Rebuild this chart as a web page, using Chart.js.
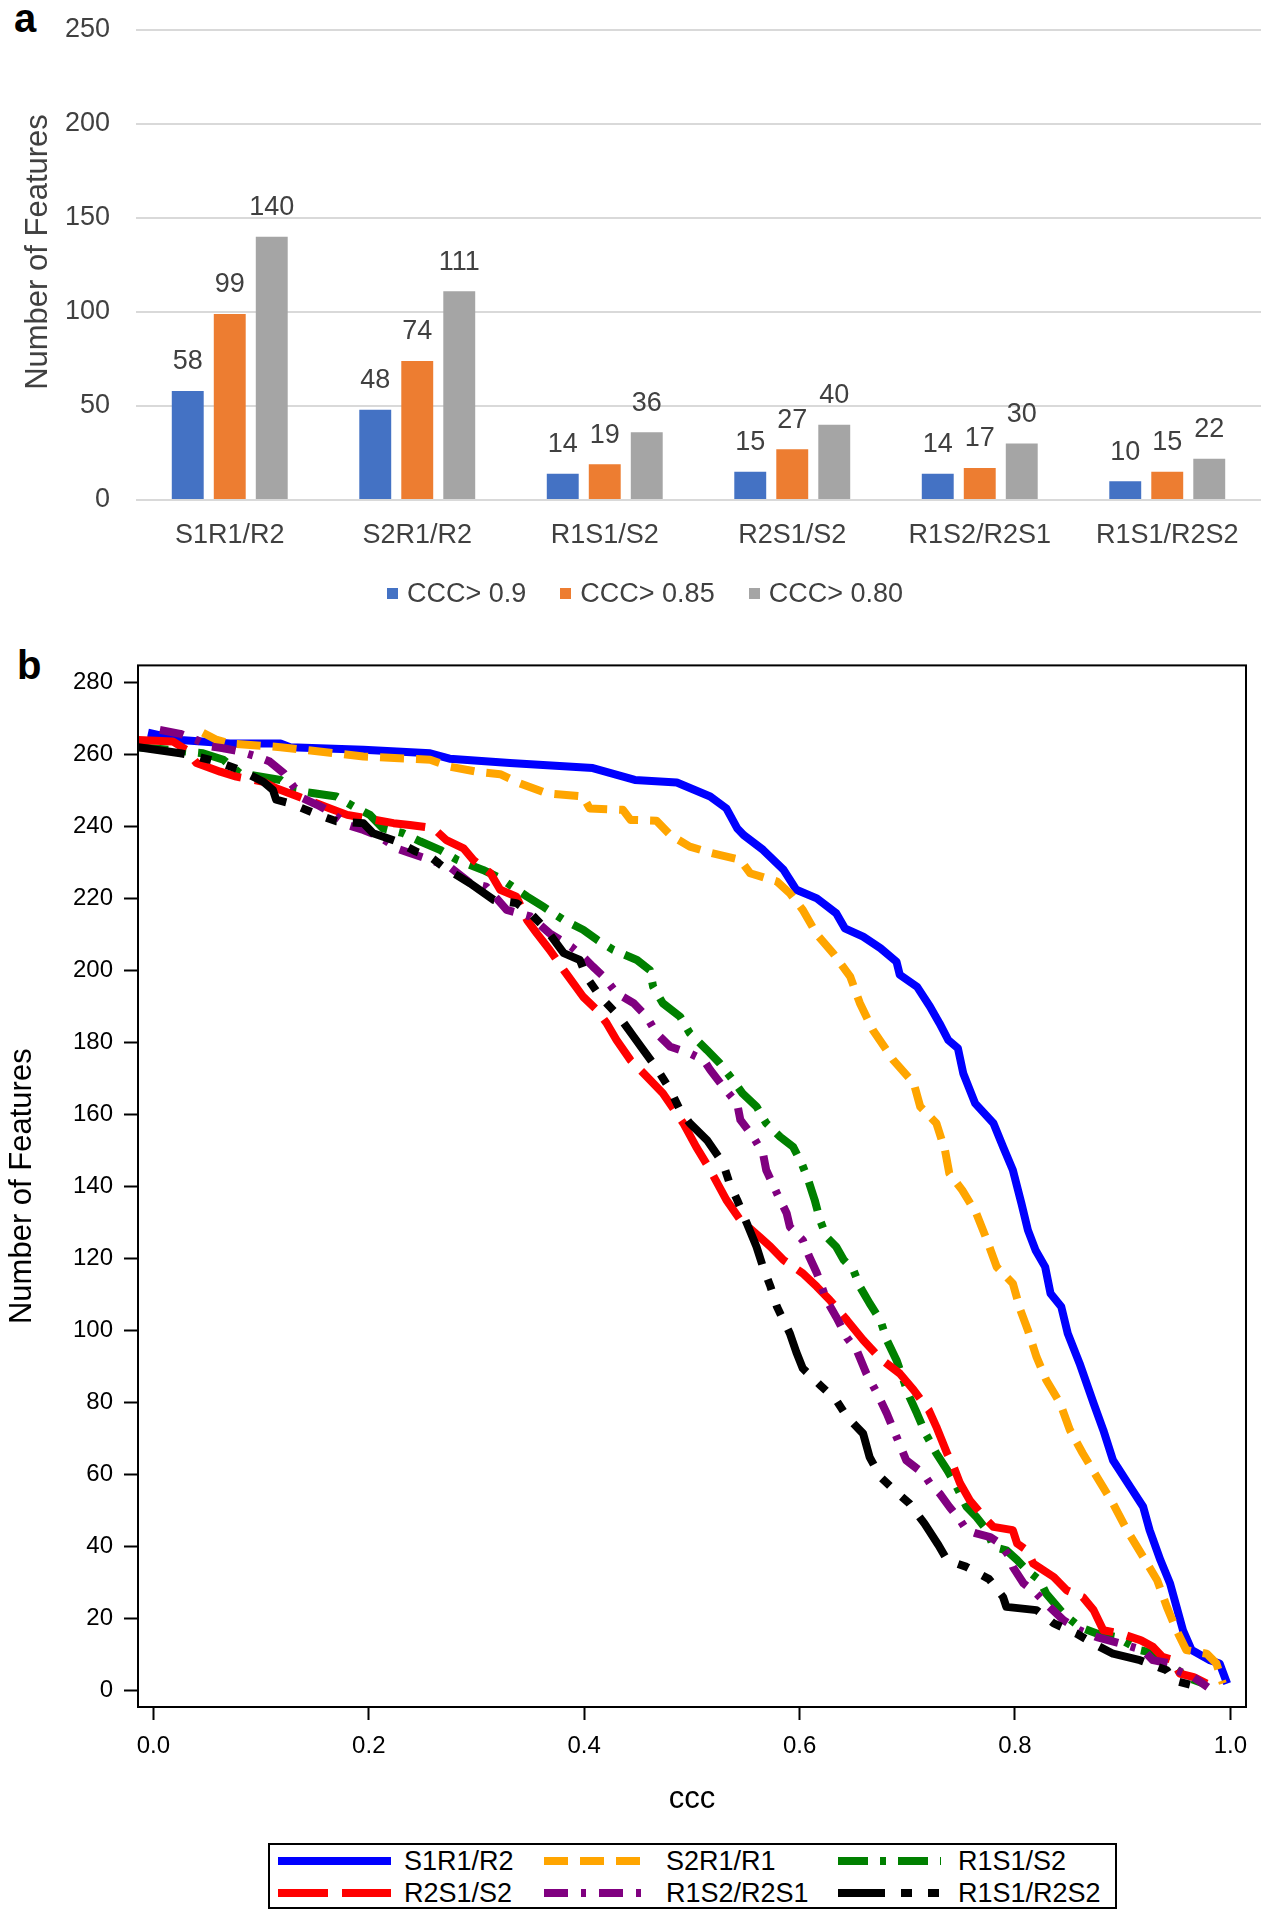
<!DOCTYPE html>
<html><head><meta charset="utf-8">
<script src="https://cdn.jsdelivr.net/npm/chart.js@4.4.1/dist/chart.umd.min.js"></script>
<style>
html,body{margin:0;padding:0;background:#fff;}
body{width:1273px;height:1920px;position:relative;overflow:hidden;font-family:"Liberation Sans",Arial,sans-serif;}
.panel-label{position:absolute;font-weight:bold;font-size:40px;line-height:40px;color:#000;}
#wrapA{position:absolute;left:0;top:0;width:1273px;height:640px;}
#wrapB{position:absolute;left:0;top:640px;width:1273px;height:1200px;}
#titleA{position:absolute;left:37px;top:252px;width:400px;height:40px;line-height:40px;margin-left:-200px;margin-top:-20px;text-align:center;font-size:31px;color:#404040;transform:rotate(-90deg);white-space:nowrap;}
#legA{position:absolute;left:0;top:575px;width:1273px;height:36px;display:flex;justify-content:center;align-items:center;font-size:27px;color:#404040;padding-left:17px;box-sizing:border-box;}
.legA-item{display:flex;align-items:center;margin:0 17px;white-space:nowrap;}
.legA-box{width:11px;height:11px;margin-right:9px;}
#legB{position:absolute;left:268px;top:1843px;width:849px;height:66px;border:2px solid #000;box-sizing:border-box;}
.legB-sample{position:absolute;height:10px;}
.legB-text{position:absolute;height:32px;line-height:32px;font-size:27px;color:#000;white-space:nowrap;}
</style></head><body>
<div class="panel-label" style="left:14px;top:-2px;">a</div>
<div class="panel-label" style="left:17px;top:645px;">b</div>
<div id="wrapA"><canvas id="chartA"></canvas></div>
<div id="titleA">Number of Features</div>
<div id="legA"></div>
<div id="wrapB"><canvas id="chartB"></canvas></div>
<div id="legB"></div>
<script>
// ---------- Panel a data ----------
const barCategories = ['S1R1/R2','S2R1/R2','R1S1/S2','R2S1/S2','R1S2/R2S1','R1S1/R2S2'];
const barSeriesNames = ['CCC> 0.9','CCC> 0.85','CCC> 0.80'];
const ccc090 = [58,48,14,15,14,10];
const ccc085 = [99,74,19,27,17,15];
const ccc080 = [140,111,36,40,30,22];
const barColors = ['#4472C4','#ED7D31','#A5A5A5'];
const barYTicks = [0,50,100,150,200,250];

// ---------- Panel b data ----------
const lineSeriesNames = ['S1R1/R2','S2R1/R1','R1S1/S2','R2S1/S2','R1S2/R2S1','R1S1/R2S2'];
const lineColors = ['#0000FF','#FFA500','#008000','#FF0000','#800080','#000000'];
const lineDashes = [[],[24,12],[30,12,6,12],[50,14],[24,13,5,13],[47,16,11,16,11,16]];
const lineXTicks = [0,0.2,0.4,0.6,0.8,1.0];
const lineXTickLabels = ['0.0','0.2','0.4','0.6','0.8','1.0'];
const lineYTicks = [0,20,40,60,80,100,120,140,160,180,200,220,240,260,280];

const s1r1r2X = [-0.005,0.025,0.071,0.118,0.127,0.195,0.257,0.275,0.331,0.408,0.447,0.486,0.517,0.532,0.542,0.548,0.566,0.585,0.597,0.616,0.634,0.642,0.659,0.675,0.690,0.693,0.709,0.721,0.730,0.738,0.747,0.752,0.763,0.780,0.789,0.798,0.806,0.812,0.819,0.828,0.833,0.843,0.849,0.860,0.873,0.882,0.891,0.907,0.919,0.925,0.935,0.944,0.950,0.956,0.964,0.981,0.990,0.997];
const s1r1r2Y = [266,264,263,263,262,261.3,260.3,258.8,257.6,256.2,252.9,252.2,248.3,245,239.5,237.6,233.5,228,222.4,220,215.9,211.7,209.4,206.2,202.4,198.8,195.5,190,185.3,180.7,178.4,171.4,163.1,157.6,151,144.6,135.3,127.9,122.4,117.7,110.3,106.6,99.2,90.9,79.8,72.4,64,56.6,51.1,44.6,36.3,29.8,23.3,16.8,11.3,8.5,7.6,2];

const s2r1r1X = [0.046,0.059,0.071,0.118,0.195,0.257,0.275,0.300,0.322,0.340,0.365,0.399,0.405,0.436,0.443,0.467,0.480,0.498,0.517,0.545,0.554,0.579,0.591,0.603,0.616,0.631,0.647,0.656,0.668,0.687,0.706,0.712,0.727,0.735,0.739,0.751,0.764,0.774,0.783,0.798,0.805,0.812,0.820,0.829,0.842,0.851,0.863,0.876,0.891,0.904,0.919,0.932,0.941,0.950,0.959,0.978,0.987,0.993];
const s2r1r1Y = [266,264,263,262,259.4,258.5,256.6,255.2,254.5,252,249.2,248.3,245,244.6,241.8,241.6,237.6,234.4,232.7,230.7,227,224.7,221.4,216.8,210,204.8,198.3,190.9,183.5,175.1,168.7,162.2,157.6,150.1,143.7,139,132.6,125.1,117.7,113.1,105.7,100.1,92.7,86.3,79.8,72.4,65.9,59.4,52,44.6,37.2,30.7,23.3,16.8,11.3,10.3,7.6,2];

const r1s1s2X = [-0.014,0.009,0.046,0.065,0.080,0.118,0.130,0.149,0.170,0.186,0.201,0.213,0.232,0.248,0.266,0.282,0.306,0.322,0.347,0.362,0.381,0.399,0.412,0.427,0.449,0.461,0.464,0.473,0.489,0.498,0.514,0.526,0.538,0.547,0.560,0.569,0.582,0.594,0.602,0.608,0.614,0.619,0.625,0.634,0.641,0.650,0.656,0.665,0.675,0.681,0.690,0.702,0.709,0.717,0.727,0.737,0.746,0.755,0.764,0.774,0.780,0.792,0.802,0.811,0.823,0.829,0.845,0.860,0.876,0.894,0.916,0.932,0.944,0.959,0.975];
const r1s1s2Y = [262,261.4,260.3,258.5,254.8,252.9,250.1,249.2,248.3,245.5,243.2,239.5,238.1,235.8,233.5,230.7,227.9,225.6,220.5,217.7,214,211.3,208.5,205.7,202.9,200.1,195.5,190.9,187.2,182.6,177.9,174.2,169.6,165.9,162.2,157.6,153.8,151,146.4,141.8,136.3,130.7,126,123.3,119.6,116.8,112.2,107.6,102.9,97.4,91.8,81.6,77,71.4,65.9,61.3,56.6,51.1,48.3,44.6,39.9,39,36.3,33.5,30.7,27,21.4,17.7,15.9,14.9,11.3,10.3,7.6,3.8,2];

const r2s1s2X = [-0.014,0.018,0.031,0.040,0.062,0.077,0.102,0.114,0.130,0.164,0.180,0.223,0.238,0.260,0.272,0.288,0.297,0.313,0.322,0.337,0.347,0.356,0.368,0.381,0.390,0.399,0.412,0.421,0.430,0.443,0.455,0.473,0.492,0.504,0.517,0.532,0.545,0.563,0.573,0.585,0.603,0.616,0.628,0.644,0.659,0.675,0.693,0.706,0.720,0.727,0.737,0.743,0.749,0.758,0.771,0.780,0.798,0.802,0.811,0.817,0.836,0.848,0.863,0.873,0.882,0.898,0.917,0.928,0.937,0.947,0.953,0.966,0.978];
const r2s1s2Y = [264,263.6,261.2,257.6,255.2,253.8,252.4,250.6,248.8,245,243.2,240.9,240.4,239.5,236.2,233.9,230.7,227,222.4,220.5,214,210.3,205.7,200.1,196.4,192.7,189,185.3,180.7,175.1,171.5,165.9,157.6,151,144.6,136.3,130.7,126,123.3,119.6,115.9,112.2,108.5,102.9,97.4,92.2,88.1,83.5,77.9,73.3,65.9,62.2,57.6,52.9,48.3,45.5,44.6,40.9,39,35.3,31.6,27.9,26,22.4,16.8,15.9,14,12.2,9.4,8.5,4.8,3.8,2];

const r1s2r2s1X = [0.006,0.025,0.040,0.053,0.065,0.080,0.096,0.108,0.121,0.130,0.139,0.152,0.164,0.180,0.195,0.210,0.226,0.238,0.257,0.275,0.294,0.309,0.328,0.350,0.368,0.388,0.399,0.408,0.418,0.430,0.446,0.458,0.467,0.480,0.498,0.511,0.517,0.529,0.542,0.545,0.557,0.566,0.569,0.579,0.588,0.591,0.603,0.609,0.616,0.625,0.634,0.644,0.653,0.662,0.672,0.681,0.690,0.699,0.715,0.721,0.730,0.739,0.749,0.755,0.764,0.777,0.786,0.795,0.798,0.808,0.820,0.829,0.845,0.860,0.876,0.898,0.919,0.928,0.944,0.950,0.966,0.979];
const r1s2r2s1Y = [266.8,265.7,264,262.2,261.7,260.8,259.4,258,254.8,251.1,247.8,246,244.1,240.4,239,237.2,233.9,232.6,230.7,228.8,224.3,223.3,216.8,215,210.3,206.6,203.8,201.1,198.3,193.7,190.9,187.2,182.6,178.8,177,175.1,172.4,167.7,163.1,158.5,153.8,149.2,144.6,138.1,132.6,128.8,125.1,120.5,116,108.5,103.8,98,94.6,88.1,82.6,77,70.5,64,60.3,57.6,54.8,51.1,47.4,44.6,43.7,42.7,40.9,37.2,34.4,29.8,27,24.2,19.6,16.8,14.9,13.1,11.3,8.5,7.6,5.7,3.8,1];

const r1s1r2s2X = [-0.014,0.025,0.040,0.059,0.080,0.102,0.111,0.114,0.127,0.149,0.170,0.195,0.204,0.226,0.244,0.257,0.269,0.294,0.316,0.337,0.350,0.365,0.381,0.396,0.402,0.415,0.433,0.446,0.455,0.467,0.480,0.489,0.498,0.514,0.529,0.535,0.542,0.551,0.560,0.566,0.573,0.579,0.591,0.597,0.603,0.619,0.634,0.644,0.659,0.665,0.675,0.688,0.702,0.716,0.729,0.737,0.755,0.776,0.789,0.792,0.820,0.836,0.857,0.873,0.891,0.916,0.941,0.947,0.972];
const r1s1r2s2Y = [262,260.3,259.4,258,255.7,252.4,250.1,247.4,246.4,243.7,241.4,240.9,238.1,235.8,233,231.6,228.8,224.2,219.6,218.7,215.9,211.3,204.8,202.9,198.3,192.7,187,181.6,177.9,173,166.8,161.2,157.6,152.9,146.4,140.9,136.3,129.8,123.3,117.7,112.2,106.6,99.2,94,89.5,84.9,80.7,76.1,71.4,64.9,59.4,55.7,52,46.4,40.4,36.3,34.4,31,26,23.3,22.4,18.7,15.9,13.1,10.3,8.5,5.7,2.9,1];

const lineXs = [s1r1r2X,s2r1r1X,r1s1s2X,r2s1s2X,r1s2r2s1X,r1s1r2s2X];
const lineYs = [s1r1r2Y,s2r1r1Y,r1s1s2Y,r2s1s2Y,r1s2r2s1Y,r1s1r2s2Y];

const FONT = '"Liberation Sans", Arial, sans-serif';
Chart.defaults.font.family = FONT;

// ---------- Panel a chart ----------
const valueLabels = {
  id:'valueLabels',
  afterDatasetsDraw(chart){
    const ctx = chart.ctx; ctx.save();
    ctx.font = '27px ' + FONT; ctx.fillStyle = '#404040';
    ctx.textAlign = 'center'; ctx.textBaseline = 'middle';
    chart.data.datasets.forEach((ds,i)=>{
      chart.getDatasetMeta(i).data.forEach((bar,j)=>{
        ctx.fillText(String(ds.data[j]), bar.x, bar.y - 29);
      });
    });
    ctx.restore();
  }
};
const barData = [ccc090, ccc085, ccc080];
new Chart(document.getElementById('chartA'), {
  type:'bar',
  data:{
    labels: barCategories,
    datasets: barData.map((d,i)=>({label:barSeriesNames[i], data:d, backgroundColor:barColors[i], borderWidth:0, categoryPercentage:0.672, barPercentage:0.76}))
  },
  options:{
    responsive:true, maintainAspectRatio:false, animation:false,
    layout:{padding:{left:0,right:12,top:30,bottom:80}},
    plugins:{legend:{display:false}, tooltip:{enabled:false}},
    scales:{
      x:{grid:{display:false}, border:{display:false},
         ticks:{color:'#404040', font:{size:27}, padding:11, maxRotation:0, autoSkip:false},
         afterFit(s){ s.height = 60; }},
      y:{min:0, max:250,
         afterBuildTicks(s){ s.ticks = barYTicks.map(v=>({value:v})); },
         grid:{color:'#D9D9D9', lineWidth:2, drawTicks:false},
         border:{display:false},
         ticks:{color:'#404040', font:{size:27}, padding:26},
         afterFit(s){ s.width = 136; s.paddingTop = 0; s.paddingBottom = 0; }}
    }
  },
  plugins:[valueLabels]
});

// legend a
const legA = document.getElementById('legA');
barSeriesNames.forEach((n,i)=>{
  const it = document.createElement('div'); it.className='legA-item';
  const b = document.createElement('div'); b.className='legA-box'; b.style.background=barColors[i];
  const t = document.createElement('span'); t.textContent = n;
  it.appendChild(b); it.appendChild(t); legA.appendChild(it);
});

// ---------- Panel b chart ----------
const frame = {
  id:'frame',
  afterDraw(chart){
    const {ctx, chartArea:a} = chart; ctx.save();
    ctx.strokeStyle='#000'; ctx.lineWidth=2;
    ctx.strokeRect(a.left, a.top, a.right-a.left, a.bottom-a.top);
    ctx.restore();
  }
};
new Chart(document.getElementById('chartB'), {
  type:'line',
  data:{
    datasets: lineSeriesNames.map((n,i)=>({
      label:n,
      data: lineXs[i].map((x,k)=>({x:x, y:lineYs[i][k]})),
      borderColor: lineColors[i], backgroundColor: lineColors[i],
      borderWidth:8, borderDash: lineDashes[i], borderCapStyle:'butt', borderJoinStyle:'round',
      pointRadius:0, tension:0, fill:false, order: 6 - i
    }))
  },
  options:{
    responsive:true, maintainAspectRatio:false, animation:false,
    layout:{padding:{left:0,right:27,top:24.5,bottom:0}},
    plugins:{legend:{display:false}, tooltip:{enabled:false}},
    scales:{
      x:{type:'linear', min:-0.0143, max:1.0145,
         afterBuildTicks(s){ s.ticks = lineXTicks.map(v=>({value:v})); },
         ticks:{callback:(v)=>lineXTickLabels[lineXTicks.indexOf(v)], color:'#000', font:{size:24}, padding:12, maxRotation:0, autoSkip:false},
         grid:{drawOnChartArea:false, drawTicks:true, tickLength:13, tickColor:'#000', tickWidth:2},
         border:{display:false},
         title:{display:true, text:'ccc', color:'#000', font:{size:31}, padding:{top:0,bottom:22}},
         afterFit(s){ s.height = 133; }},
      y:{type:'linear', min:-4.5, max:284.7,
         afterBuildTicks(s){ s.ticks = lineYTicks.map(v=>({value:v})); },
         ticks:{callback:(v)=>String(v), color:'#000', font:{size:24}, padding:11, autoSkip:false},
         grid:{drawOnChartArea:false, drawTicks:true, tickLength:14, tickColor:'#000', tickWidth:2},
         border:{display:false},
         title:{display:true, text:'Number of Features', color:'#000', font:{size:31}, padding:{top:4,bottom:0}},
         afterFit(s){ s.width = 138; }}
    }
  },
  plugins:[frame]
});

// legend b
const legB = document.getElementById('legB');
const colSample = [8,274,568], colSampleW = [113,104,103], colText = [134,396,688], rowCenter = [16,48];
lineSeriesNames.forEach((n,i)=>{
  const c = i%3, r = Math.floor(i/3);
  const w = colSampleW[c];
  const svgNS='http://www.w3.org/2000/svg';
  const svg = document.createElementNS(svgNS,'svg');
  svg.setAttribute('width', w); svg.setAttribute('height', 10);
  svg.setAttribute('class','legB-sample');
  svg.style.left = colSample[c]+'px'; svg.style.top = (rowCenter[r]-5)+'px';
  const ln = document.createElementNS(svgNS,'line');
  ln.setAttribute('x1',0); ln.setAttribute('y1',5); ln.setAttribute('x2',w); ln.setAttribute('y2',5);
  ln.setAttribute('stroke', lineColors[i]); ln.setAttribute('stroke-width', 8);
  if (lineDashes[i].length) ln.setAttribute('stroke-dasharray', lineDashes[i].join(' '));
  svg.appendChild(ln); legB.appendChild(svg);
  const t = document.createElement('div'); t.className='legB-text'; t.textContent=n;
  t.style.left = colText[c]+'px'; t.style.top = (rowCenter[r]-16)+'px';
  legB.appendChild(t);
});
</script>
</body></html>
